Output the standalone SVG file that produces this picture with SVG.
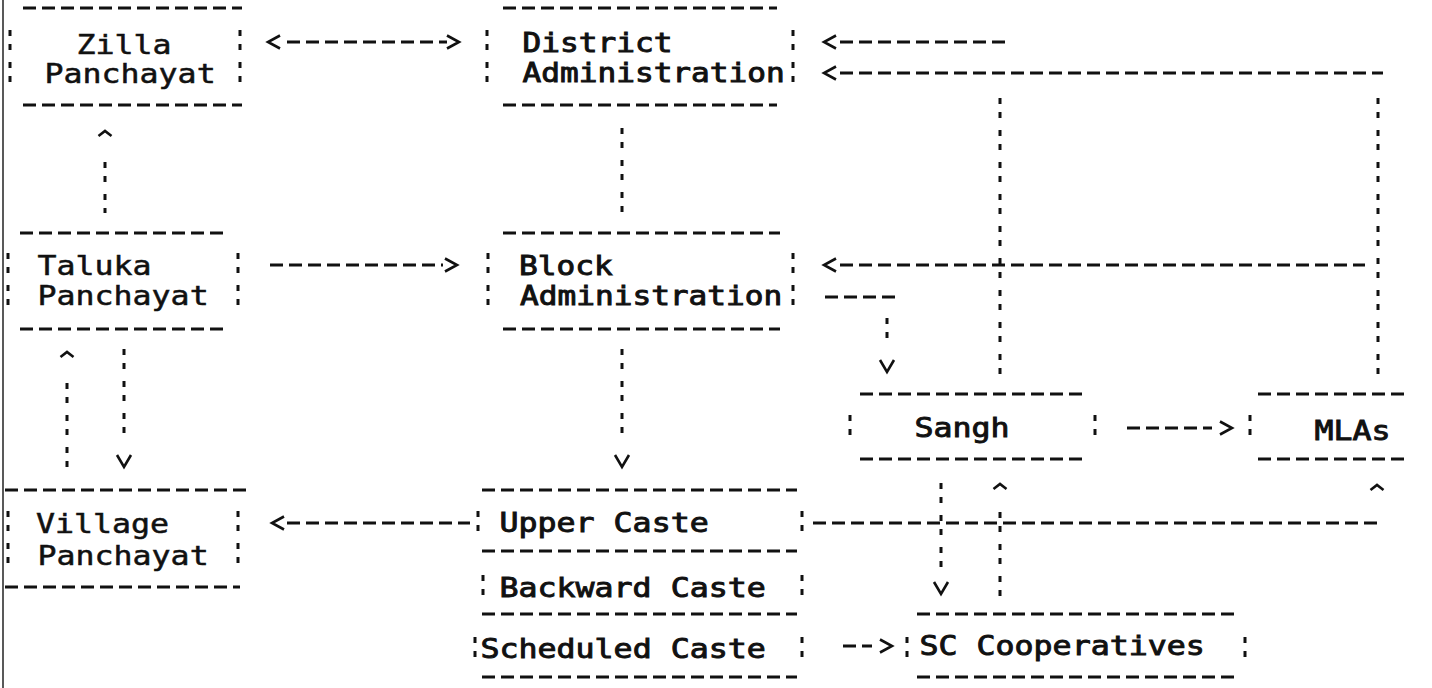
<svg xmlns="http://www.w3.org/2000/svg" xmlns:xlink="http://www.w3.org/1999/xlink" width="1432" height="688" viewBox="0 0 1432 688">
<style>
.bg{fill:#fff}
.h{fill:none;stroke:#111;stroke-width:3;stroke-dasharray:13 6}
.v{fill:none;stroke:#111;stroke-width:3;stroke-dasharray:6 8 6 12}
.hd{fill:none;stroke:#111;stroke-width:2.6}
.t{font-family:"DejaVu Sans Mono","Liberation Mono",monospace;font-size:31.6px;fill:#111;stroke:#111;stroke-width:0.6px;white-space:pre}
.b{stroke-width:1.1px}
.edge{stroke:#222;stroke-width:1.5}
</style>
<defs>
<path id="al" class="hd" d="M12,-6.5 L0,0 L12,6.5"/>
<path id="ar" class="hd" d="M-12,-6.5 L0,0 L-12,6.5"/>
<path id="ad" class="hd" d="M-7,-12 L0,0 L7,-12"/>
<path id="au" class="hd" d="M-6.5,5 L0,0 L6.5,5"/>
</defs>
<rect class="bg" x="0" y="0" width="1432" height="688"/>
<line class="edge" x1="3" y1="0" x2="3" y2="688"/>

<g id="zilla-panchayat">
<path class="h" d="M23,8 H242 M23,105 H242"/>
<path class="v" d="M10,30 V86 M240,30 V86"/>
<text class="t" transform="translate(76.5,54) scale(1,0.85)">Zilla</text>
<text class="t" transform="translate(44.5,83) scale(1,0.85)">Panchayat</text>
</g>

<g id="district-administration">
<path class="h" d="M503,8 H777 M503,105 H777"/>
<path class="v" d="M487,30 V86 M793,30 V86"/>
<text class="t b" transform="translate(522.5,52) scale(0.985,0.85)">District</text>
<text class="t b" transform="translate(522.5,82) scale(0.985,0.85)">Administration</text>
</g>

<g id="taluka-panchayat">
<path class="h" d="M20,233 H223 M20,329 H223"/>
<path class="v" d="M8,253 V309 M238,253 V309"/>
<text class="t" transform="translate(37.5,275) scale(1,0.85)">Taluka</text>
<text class="t" transform="translate(37.5,305) scale(1,0.85)">Panchayat</text>
</g>

<g id="block-administration">
<path class="h" d="M503,233 H780 M503,329 H780"/>
<path class="v" d="M488,253 V309 M793,253 V309"/>
<text class="t b" transform="translate(519,275) scale(0.985,0.85)">Block</text>
<text class="t b" transform="translate(520,305) scale(0.985,0.85)">Administration</text>
</g>

<g id="village-panchayat">
<path class="h" d="M5,490 H247 M5,587 H240"/>
<path class="v" d="M8,511 V565 M238,511 V565"/>
<text class="t" transform="translate(36,533) scale(1,0.85)">Village</text>
<text class="t" transform="translate(37.5,565) scale(1,0.85)">Panchayat</text>
</g>

<g id="upper-caste">
<path class="h" d="M482,490 H797 M482,551 H797"/>
<path class="v" d="M478,511 V535 M802,511 V535"/>
<text class="t b" transform="translate(499.5,532) scale(1,0.85)">Upper Caste</text>
</g>

<g id="backward-caste">
<path class="h" d="M482,614 H797"/>
<path class="v" d="M483,575 V599 M802,575 V599"/>
<text class="t b" transform="translate(499.5,597) scale(1,0.85)">Backward Caste</text>
</g>

<g id="scheduled-caste">
<path class="h" d="M482,677 H797"/>
<path class="v" d="M475,637 V661 M802,637 V661"/>
<text class="t b" transform="translate(480.5,658) scale(1,0.85)">Scheduled Caste</text>
</g>

<g id="sangh">
<path class="h" d="M860,394 H1082 M860,459 H1082"/>
<path class="v" d="M850,415 V439 M1095,415 V439"/>
<text class="t b" transform="translate(914.5,437) scale(1,0.85)">Sangh</text>
</g>

<g id="mlas">
<path class="h" d="M1258,394 H1410 M1258,459 H1410"/>
<path class="v" d="M1250,415 V439"/>
<text class="t b" transform="translate(1314.5,440) scale(1,0.85)">MLAs</text>
</g>

<g id="sc-cooperatives">
<path class="h" d="M917,614 H1237 M917,677 H1237"/>
<path class="v" d="M907,637 V661 M1245,637 V661"/>
<text class="t b" transform="translate(919.5,655) scale(1,0.85)">SC Cooperatives</text>
</g>

<g id="connectors">
<g id="zilla-district">
<path class="h" d="M287,42 H447"/>
<use xlink:href="#al" href="#al" x="268" y="42"/>
<use xlink:href="#ar" href="#ar" x="459" y="42"/>
</g>
<g id="sangh-district">
<path class="v" d="M1000,98 V376"/>
<path class="h" d="M840,42 H1007"/>
<use xlink:href="#al" href="#al" x="824" y="42"/>
</g>
<g id="mlas-district">
<path class="v" d="M1378,98 V376"/>
<path class="h" d="M840,73 H1383"/>
<use xlink:href="#al" href="#al" x="824" y="73"/>
</g>
<g id="mlas-block">
<path class="h" d="M840,265 H1365"/>
<use xlink:href="#al" href="#al" x="824" y="265"/>
</g>
<g id="district-block">
<path class="v" d="M622,128 V212"/>
</g>
<g id="taluka-zilla">
<path class="v" d="M105,162 V213"/>
<use xlink:href="#au" href="#au" x="105" y="131"/>
</g>
<g id="taluka-block">
<path class="h" d="M270,265 H443"/>
<use xlink:href="#ar" href="#ar" x="457" y="265"/>
</g>
<g id="taluka-village">
<path class="v" d="M124,349 V440"/>
<use xlink:href="#ad" href="#ad" x="124" y="467"/>
</g>
<g id="village-taluka">
<path class="v" d="M67,383 V470"/>
<use xlink:href="#au" href="#au" x="67" y="352"/>
</g>
<g id="block-castes">
<path class="v" d="M622,349 V440"/>
<use xlink:href="#ad" href="#ad" x="622" y="467"/>
</g>
<g id="block-sangh">
<path class="h" d="M825,297 H895"/>
<path class="v" d="M887,318 V346"/>
<use xlink:href="#ad" href="#ad" x="887" y="372"/>
</g>
<g id="sangh-mlas">
<path class="h" d="M1127,428 H1212"/>
<use xlink:href="#ar" href="#ar" x="1232" y="428"/>
</g>
<g id="upper-village">
<path class="h" d="M287,523 H470"/>
<use xlink:href="#al" href="#al" x="272" y="523"/>
</g>
<g id="upper-mlas">
<path class="h" d="M813,523 H1380"/>
<use xlink:href="#au" href="#au" x="1377" y="485"/>
</g>
<g id="sangh-sc">
<path class="v" d="M941,483 V570"/>
<use xlink:href="#ad" href="#ad" x="941" y="594"/>
</g>
<g id="sc-sangh">
<path class="v" d="M1000,512 V600"/>
<use xlink:href="#au" href="#au" x="1000" y="484"/>
</g>
<g id="scheduled-sc">
<path class="h" d="M843,646 H872"/>
<use xlink:href="#ar" href="#ar" x="892" y="646"/>
</g>
</g>
</svg>
